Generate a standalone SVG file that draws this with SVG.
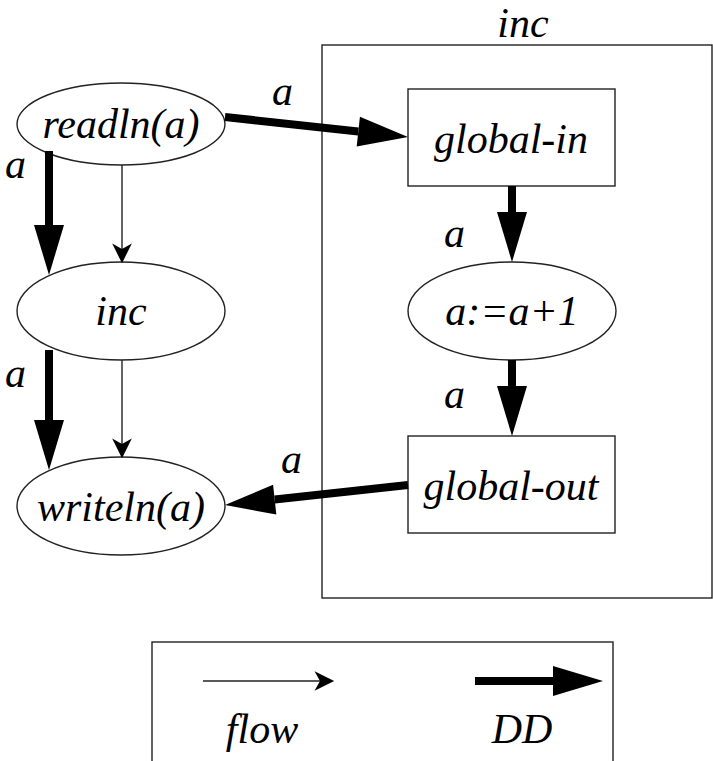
<svg xmlns="http://www.w3.org/2000/svg" width="713" height="761" viewBox="0 0 713 761">
  <style>
    .lbl { font-family: "Liberation Serif", "Times New Roman", serif; font-style: italic; font-size: 42px; fill: #000; }
    .mid { text-anchor: middle; }
    .shape { fill: #fff; stroke: #222; stroke-width: 1.4; }
    .box { fill: none; stroke: #222; stroke-width: 1.4; }
    .flow { fill: none; stroke: #222; stroke-width: 1.4; marker-end: url(#thin); }
    .dd { fill: none; stroke: #000; stroke-width: 8; marker-end: url(#thick); }
  </style>
  <defs>
    <!-- thin control-flow arrowhead; line ends at the notch -->
    <marker id="thin" markerUnits="userSpaceOnUse" orient="auto" markerWidth="24" markerHeight="24" viewBox="-6 -10 22 20" refX="0" refY="0" overflow="visible">
      <path d="M-5,-9 L13,0 L-5,9 L0,0 Z" fill="#000"/>
    </marker>
    <!-- thick data-dependence arrowhead; line ends at the base -->
    <marker id="thick" markerUnits="userSpaceOnUse" orient="auto" markerWidth="52" markerHeight="32" viewBox="0 -16 52 32" refX="0" refY="0" overflow="visible">
      <path d="M0,-15 L50,0 L0,15 Z" fill="#000"/>
    </marker>
  </defs>

  <!-- procedure body cluster -->
  <g id="cluster-inc">
    <rect class="box" x="322" y="45" width="390" height="553"/>
    <text class="lbl mid" x="523" y="37">inc</text>
  </g>

  <g id="readln">
    <ellipse class="shape" cx="121" cy="124" rx="104" ry="41"/>
    <text class="lbl mid" x="121" y="138">readln(a)</text>
  </g>
  <g id="inc-call">
    <ellipse class="shape" cx="121" cy="311" rx="104" ry="49"/>
    <text class="lbl mid" x="121" y="325">inc</text>
  </g>
  <g id="writeln">
    <ellipse class="shape" cx="121" cy="506" rx="104" ry="49"/>
    <text class="lbl mid" x="121" y="521">writeln(a)</text>
  </g>
  <g id="global-in">
    <rect class="shape" x="408" y="89" width="207" height="97"/>
    <text class="lbl mid" x="511" y="153">global-in</text>
  </g>
  <g id="assign">
    <ellipse class="shape" cx="512" cy="311" rx="104" ry="49"/>
    <text class="lbl mid" x="512" y="325">a:=a+1</text>
  </g>
  <g id="global-out">
    <rect class="shape" x="408" y="436" width="207" height="97"/>
    <text class="lbl mid" x="511" y="500">global-out</text>
  </g>

  <g id="edges">
    <!-- data dependences -->
    <line class="dd" x1="225" y1="117" x2="358.3" y2="131.6"/>
    <line class="dd" x1="408" y1="485" x2="274.7" y2="499.6"/>
    <line class="dd" x1="49" y1="151" x2="49" y2="225"/>
    <line class="dd" x1="49" y1="350" x2="49" y2="420"/>
    <line class="dd" x1="512" y1="186" x2="512" y2="212"/>
    <line class="dd" x1="512" y1="360" x2="512" y2="386"/>
    <!-- control flow -->
    <line class="flow" x1="122" y1="165" x2="122" y2="249"/>
    <line class="flow" x1="122" y1="360" x2="122" y2="444"/>
    <!-- edge labels -->
    <text class="lbl" x="272" y="105">a</text>
    <text class="lbl" x="5" y="178">a</text>
    <text class="lbl" x="5" y="387">a</text>
    <text class="lbl" x="444" y="247">a</text>
    <text class="lbl" x="444" y="408">a</text>
    <text class="lbl" x="281" y="473">a</text>
  </g>

  <!-- legend -->
  <g id="legend">
    <rect class="box" x="152" y="642" width="461" height="140"/>
    <line class="flow" x1="203" y1="681" x2="320" y2="681"/>
    <text class="lbl mid" x="262" y="743">flow</text>
    <line class="dd" x1="475" y1="681" x2="553" y2="681"/>
    <text class="lbl mid" x="522" y="743">DD</text>
  </g>
</svg>
